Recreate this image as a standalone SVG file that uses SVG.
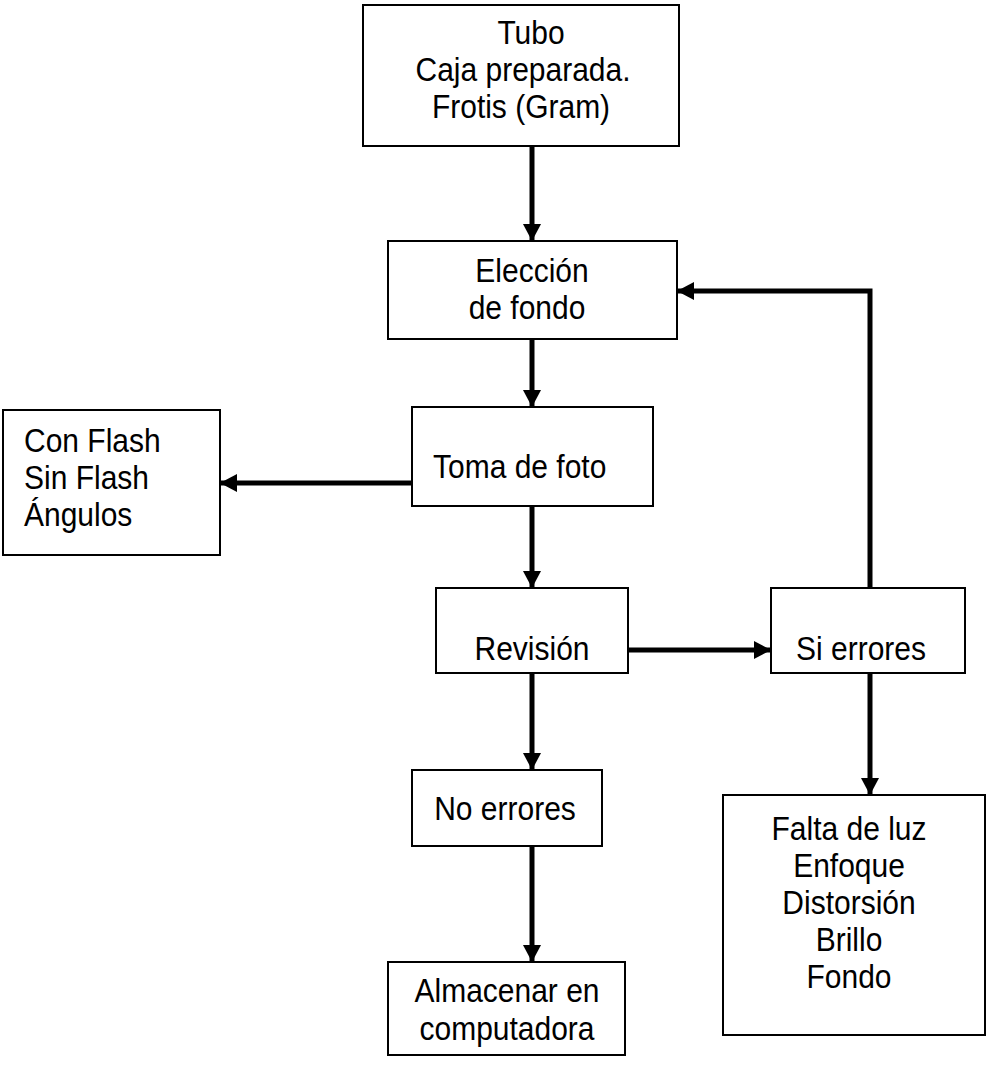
<svg xmlns="http://www.w3.org/2000/svg" width="988" height="1084" viewBox="0 0 988 1084">
<style>
.box{fill:#fff;stroke:#000;stroke-width:2}
.t{font-family:"Liberation Sans",Arial,sans-serif;font-size:30px;fill:#000}
.c{text-anchor:middle}
.ln{fill:none;stroke:#000;stroke-width:5}
</style>
<defs>
<marker id="ah" markerUnits="userSpaceOnUse" markerWidth="18" markerHeight="18" refX="17" refY="9" orient="auto">
<path d="M0,0 L17,9 L0,18 Z" fill="#000"/>
</marker>
</defs>
<rect width="988" height="1084" fill="#fff"/>
<g id="connectors">
<line class="ln" x1="532" y1="146" x2="532" y2="241" marker-end="url(#ah)"/>
<line class="ln" x1="532" y1="339" x2="532" y2="407" marker-end="url(#ah)"/>
<line class="ln" x1="412" y1="483" x2="220" y2="483" marker-end="url(#ah)"/>
<line class="ln" x1="532" y1="506" x2="532" y2="588" marker-end="url(#ah)"/>
<line class="ln" x1="628" y1="650" x2="771" y2="650" marker-end="url(#ah)"/>
<polyline class="ln" points="870,588 870,291 677,291" marker-end="url(#ah)"/>
<line class="ln" x1="532" y1="673" x2="532" y2="770" marker-end="url(#ah)"/>
<line class="ln" x1="532" y1="846" x2="532" y2="962" marker-end="url(#ah)"/>
<line class="ln" x1="870" y1="673" x2="870" y2="795" marker-end="url(#ah)"/>
</g>
<g id="n-tubo">
<rect class="box" x="363" y="5" width="316" height="141"/>
<text class="t c" transform="translate(531 44) scale(1 1.1)">Tubo</text>
<text class="t c" transform="translate(523 81) scale(1 1.1)">Caja preparada.</text>
<text class="t c" transform="translate(521 118) scale(1 1.1)">Frotis (Gram)</text>
</g>
<g id="n-eleccion">
<rect class="box" x="388" y="241" width="289" height="98"/>
<text class="t c" transform="translate(532 282) scale(1 1.1)">Elección</text>
<text class="t c" transform="translate(527 319) scale(1 1.1)">de fondo</text>
</g>
<g id="n-toma">
<rect class="box" x="412" y="407" width="241" height="99"/>
<text class="t" transform="translate(433 478) scale(1 1.1)">Toma de foto</text>
</g>
<g id="n-flash">
<rect class="box" x="3" y="410" width="217" height="145"/>
<text class="t" transform="translate(24 452) scale(1 1.1)">Con Flash</text>
<text class="t" transform="translate(24 489) scale(1 1.1)">Sin Flash</text>
<text class="t" transform="translate(24 526) scale(1 1.1)">Ángulos</text>
</g>
<g id="n-revision">
<rect class="box" x="436" y="588" width="192" height="85"/>
<text class="t c" transform="translate(532 660) scale(1 1.1)">Revisión</text>
</g>
<g id="n-si">
<rect class="box" x="771" y="588" width="194" height="85"/>
<text class="t c" transform="translate(861 660) scale(1 1.1)">Si errores</text>
</g>
<g id="n-no">
<rect class="box" x="412" y="770" width="190" height="76"/>
<text class="t c" transform="translate(505 820) scale(1 1.1)">No errores</text>
</g>
<g id="n-almacenar">
<rect class="box" x="388" y="962" width="237" height="93"/>
<text class="t c" transform="translate(507 1002) scale(1 1.1)">Almacenar en</text>
<text class="t c" transform="translate(507 1040) scale(1 1.1)">computadora</text>
</g>
<g id="n-falta">
<rect class="box" x="723" y="795" width="262" height="240"/>
<text class="t c" transform="translate(849 840) scale(1 1.1)">Falta de luz</text>
<text class="t c" transform="translate(849 877) scale(1 1.1)">Enfoque</text>
<text class="t c" transform="translate(849 914) scale(1 1.1)">Distorsión</text>
<text class="t c" transform="translate(849 951) scale(1 1.1)">Brillo</text>
<text class="t c" transform="translate(849 988) scale(1 1.1)">Fondo</text>
</g>
</svg>
